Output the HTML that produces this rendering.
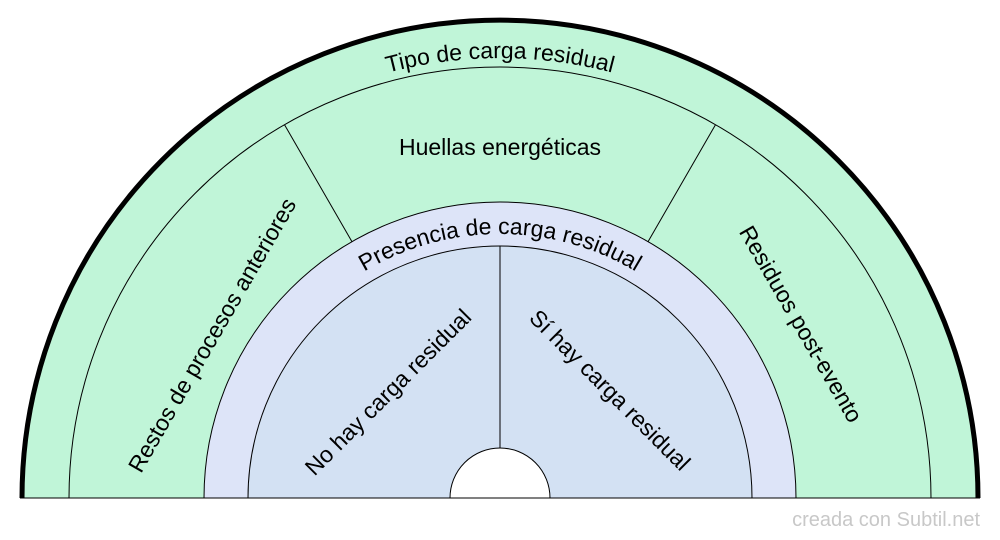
<!DOCTYPE html>
<html><head><meta charset="utf-8"><style>
html,body{margin:0;padding:0;background:#fff;}
svg{display:block;font-family:"Liberation Sans",sans-serif;}
</style></head><body>
<svg width="1000" height="540" viewBox="0 0 1000 540" xmlns="http://www.w3.org/2000/svg">
<defs>
<path id="a1" d="M 60 498 A 440 440 0 0 1 940 498"/>
<path id="a2" d="M 236 498 A 264 264 0 0 1 764 498"/>
</defs>
<path d="M 22 498 A 478 478 0 0 1 978 498 Z" fill="#c0f5d8" stroke="#000" stroke-width="1"/>
<path d="M 69 498 A 431 431 0 0 1 931 498 Z" fill="#c0f5d8" stroke="#000" stroke-width="1"/>
<path d="M 204 498 A 296 296 0 0 1 796 498 Z" fill="#dde4f8" stroke="#000" stroke-width="1"/>
<path d="M 248 498 A 252 252 0 0 1 752 498 Z" fill="#d3e1f3" stroke="#000" stroke-width="1"/>
<path d="M 450 498 A 50 50 0 0 1 550 498 Z" fill="#fff" stroke="#000" stroke-width="1"/>
<line x1="284.5" y1="124.7" x2="352" y2="241.7" stroke="#000" stroke-width="1"/>
<line x1="715.5" y1="124.7" x2="648" y2="241.7" stroke="#000" stroke-width="1"/>
<line x1="500" y1="246" x2="500" y2="448" stroke="#000" stroke-width="1"/>
<path d="M 22 498 A 478 478 0 0 1 978 498" fill="none" stroke="#000" stroke-width="5"/>
<line x1="20" y1="498" x2="980" y2="498" stroke="#000" stroke-width="1"/>
<g font-size="23" fill="#000">
<text><textPath href="#a1" startOffset="50%" text-anchor="middle">Tipo de carga residual</textPath></text>
<text><textPath href="#a2" startOffset="50%" text-anchor="middle">Presencia de carga residual</textPath></text>
<text x="500" y="155" text-anchor="middle">Huellas energéticas</text>
<text transform="translate(212,335) rotate(-60)" text-anchor="middle" dy="8">Restos de procesos anteriores</text>
<text transform="translate(801,324) rotate(60)" text-anchor="middle" dy="8">Residuos post-evento</text>
<text transform="translate(388,392) rotate(-45)" text-anchor="middle" dy="8">No hay carga residual</text>
<text transform="translate(610,390) rotate(45)" text-anchor="middle" dy="8">Sí hay carga residual</text>
</g>
<text x="980" y="526" text-anchor="end" font-size="20" fill="#c8c8c8">creada con Subtil.net</text>
</svg>
</body></html>
